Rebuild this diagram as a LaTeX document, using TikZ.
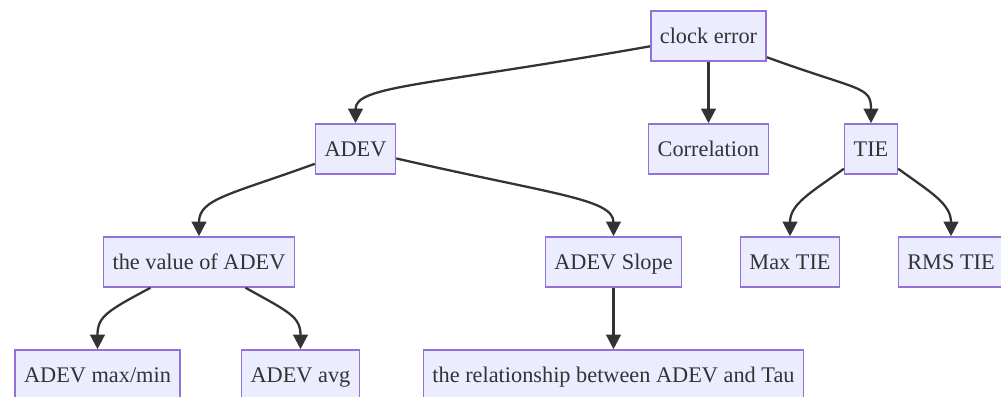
\documentclass[tikz,border=0pt]{standalone}
\usepackage{fontspec}
\setmainfont{Liberation Serif}
\usepackage{tikz}
\usetikzlibrary{arrows.meta}

\definecolor{boxfill}{HTML}{ECECFF}
\definecolor{boxline}{HTML}{9370DB}
\definecolor{ink}{HTML}{333333}

\tikzset{
  box/.style={rectangle, draw=boxline, fill=boxfill, line width=0.9pt,
    minimum height=1cm, inner xsep=0.18cm, inner ysep=0pt,
    text height=2.2ex, text depth=0.45ex,
    text=ink, font=\fontsize{12.7}{15}\selectfont},
  arr/.style={draw=ink, line width=1.3pt,
    -{Triangle[length=0.29cm,width=0.29cm]}}
}

\begin{document}
\begin{tikzpicture}[x=0.02cm, y=-0.02cm]
\useasboundingbox (0,0) rectangle (1001,396);
\node[box] (ce) at (708.5,36){clock error};
\node[box] (adev) at (355.5,149){ADEV};
\node[box] (corr) at (708.5,149){Correlation};
\node[box] (tie) at (871,149){TIE};
\node[box] (val) at (199,262){the value of ADEV};
\node[box] (slope) at (613.5,262){ADEV Slope};
\node[box] (maxtie) at (790,262){Max TIE};
\node[box] (rmstie) at (951,262){RMS TIE};
\node[box] (maxmin) at (97.5,375){ADEV max/min};
\node[box] (avg) at (300.5,375){ADEV avg};
\node[box] (rel) at (613.5,375){the relationship between ADEV and Tau};
% straight links
\draw[arr] (ce) -- (corr);
\draw[arr] (slope) -- (rel);
% bent links: from/to/leaving angle/out distance/in distance
\foreach \from/\to/\ang/\od/\id in
{ce/adev/190/4.6cm/0.75cm, ce/tie/-20/2cm/0.75cm,
 adev/val/200/1.8cm/0.75cm, adev/slope/-13/3.2cm/0.75cm,
 val/maxmin/208/1cm/0.65cm, val/avg/-29/1cm/0.65cm,
 tie/maxtie/216/0.8cm/0.65cm, tie/rmstie/-36/0.8cm/0.65cm}
\draw[arr] (\from.\ang) to[out=\ang, in=90, out distance=\od, in distance=\id] (\to);
\end{tikzpicture}
\end{document}
